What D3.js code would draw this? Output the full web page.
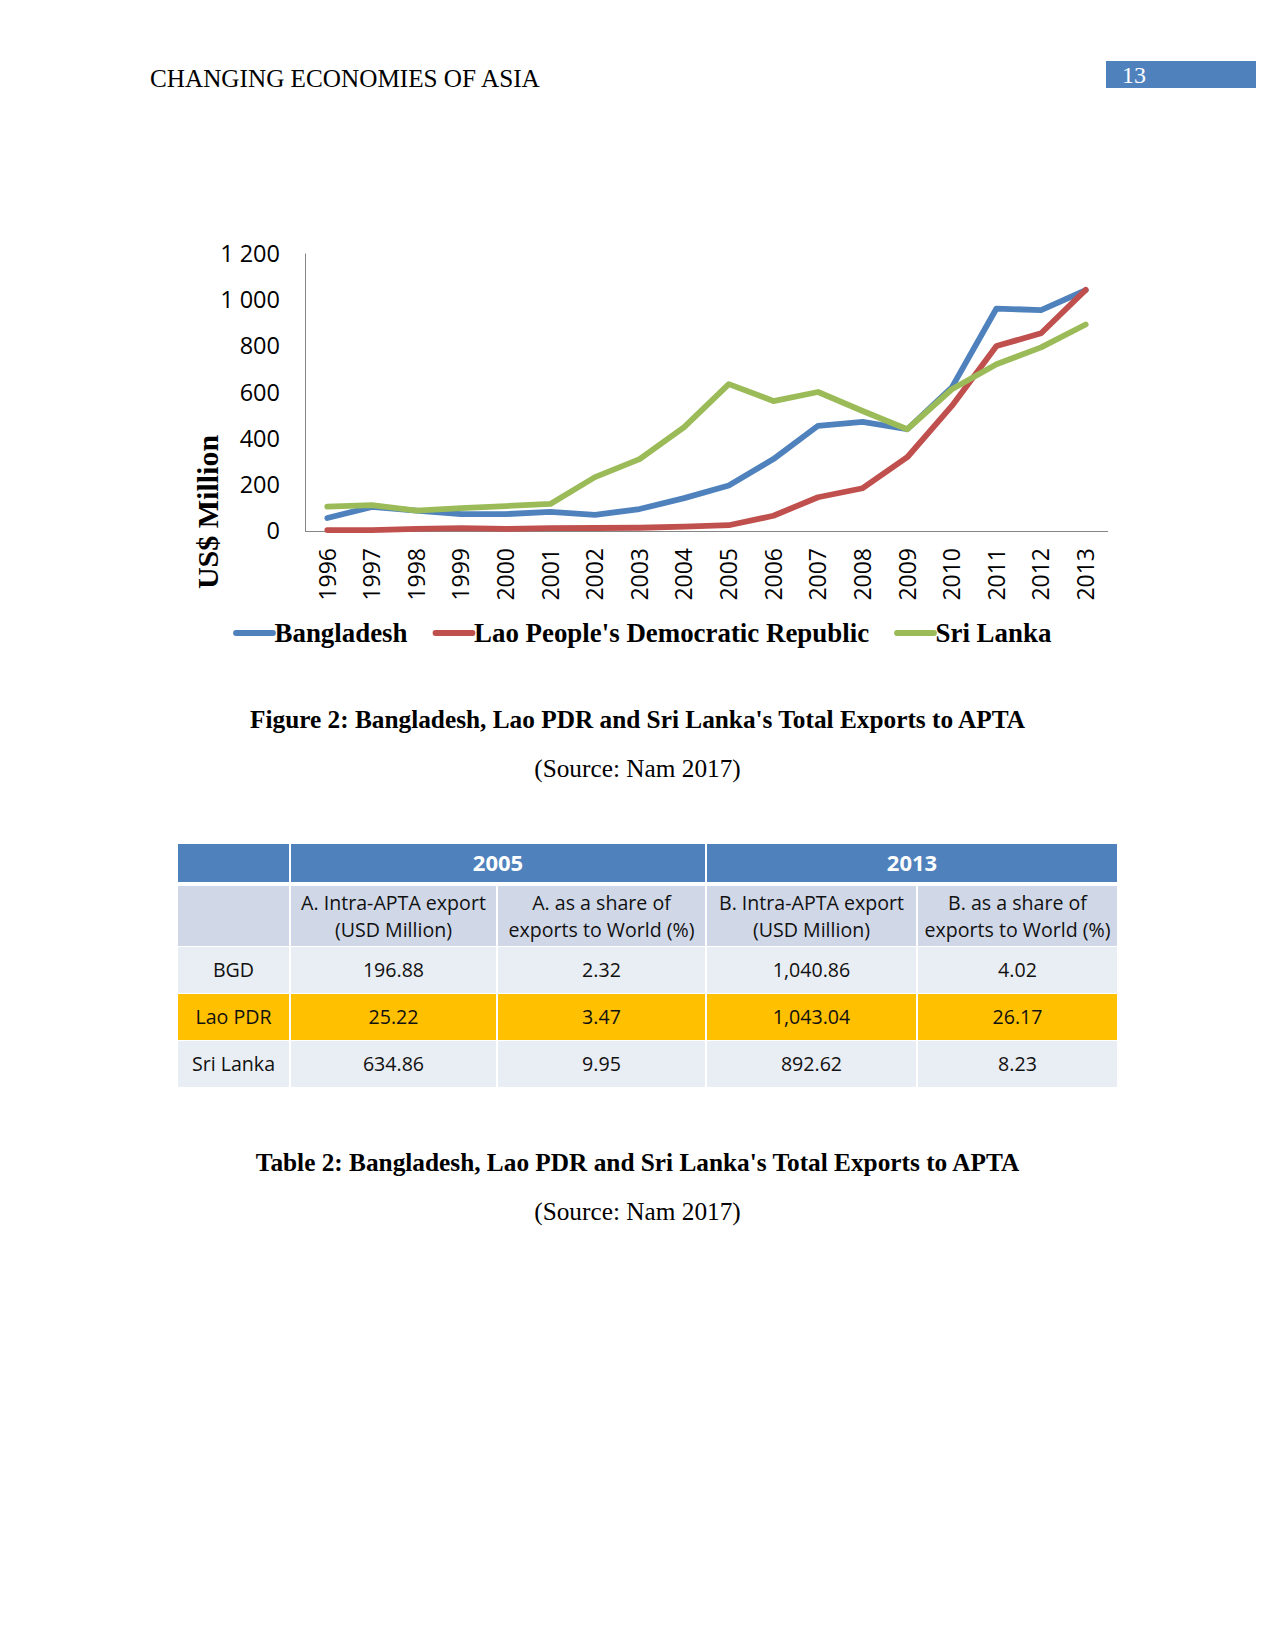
<!DOCTYPE html>
<html>
<head>
<meta charset="utf-8">
<script src="https://cdn.jsdelivr.net/npm/d3@7"></script>
<style>
  html, body { margin: 0; padding: 0; background: #fff; }
  svg { display: block; }
</style>
</head>
<body>
<svg id="page" width="1275" height="1650"></svg>
<script>
// ---------- DATA ----------
const years = ["1996","1997","1998","1999","2000","2001","2002","2003","2004","2005","2006","2007","2008","2009","2010","2011","2012","2013"];
const bangladesh = [56, 104, 88, 73, 73, 83, 70, 95, 142, 197, 311, 455, 472, 440, 621, 962, 955, 1041];
const laoPDR     = [4, 4, 9, 12, 9, 12, 13, 14, 19, 25, 66, 146, 185, 319, 541, 800, 855, 1043];
const sriLanka   = [105, 112, 88, 99, 108, 117, 233, 311, 449, 635, 562, 601, 519, 440, 613, 721, 794, 893];
const seriesNames = ["Bangladesh", "Lao People's Democratic Republic", "Sri Lanka"];
const yTicks = [0, 200, 400, 600, 800, 1000, 1200];
const yTickLabels = ["0", "200", "400", "600", "800", "1 000", "1 200"];

const tableYears = ["2005", "2013"];
const tableSubHeaders = [
  ["A. Intra-APTA export", "(USD Million)"],
  ["A. as a share of", "exports to World (%)"],
  ["B. Intra-APTA export", "(USD Million)"],
  ["B. as a share of", "exports to World (%)"]
];
const tableRowLabels = ["BGD", "Lao PDR", "Sri Lanka"];
const tableValues = [
  ["196.88", "2.32", "1,040.86", "4.02"],
  ["25.22", "3.47", "1,043.04", "26.17"],
  ["634.86", "9.95", "892.62", "8.23"]
];

// ---------- STYLE ----------
const colors = ["#4F81BD", "#C0504D", "#9BBB59"];
const svg = d3.select("#page");
const serif = "'Liberation Serif', 'Times New Roman', serif";
const sans = "'Open Sans', 'Noto Sans', sans-serif";

// ---------- PAGE HEADER ----------
svg.append("text").attr("x", 150).attr("y", 87)
  .attr("font-family", serif).attr("font-size", 25.2).attr("fill", "#000")
  .text("CHANGING ECONOMIES OF ASIA");
svg.append("rect").attr("x", 1106).attr("y", 61).attr("width", 150).attr("height", 27).attr("fill", "#4F81BD");
svg.append("text").attr("x", 1122).attr("y", 83)
  .attr("font-family", serif).attr("font-size", 24).attr("fill", "#fff").text("13");

// ---------- CHART ----------
const x = d3.scaleBand().domain(years).range([305, 1108]).padding(0);
const y = d3.scaleLinear().domain([0, 1200]).range([531, 253.5]);

const g = svg.append("g");
// y axis line
g.append("line").attr("x1", 305.5).attr("x2", 305.5).attr("y1", y(1200)).attr("y2", y(0))
  .attr("stroke", "#868686").attr("stroke-width", 1);
// x axis line
g.append("line").attr("x1", 305).attr("x2", 1108).attr("y1", y(0) + 0.5).attr("y2", y(0) + 0.5)
  .attr("stroke", "#868686").attr("stroke-width", 1);

// y tick labels
g.selectAll("text.ytick").data(yTicks).enter().append("text")
  .attr("class", "ytick")
  .attr("x", 280).attr("y", d => y(d))
  .attr("dy", "0.36em")
  .attr("text-anchor", "end")
  .attr("font-family", sans).attr("font-size", 23.5).attr("fill", "#000")
  .text((d, i) => yTickLabels[i]);

// x tick labels (rotated)
g.selectAll("text.xtick").data(years).enter().append("text")
  .attr("class", "xtick")
  .attr("transform", d => `translate(${x(d) + x.bandwidth() / 2},548) rotate(-90)`)
  .attr("dy", "0.36em")
  .attr("text-anchor", "end")
  .attr("font-family", sans).attr("font-size", 23).attr("fill", "#000")
  .text(d => d);

// y title
g.append("text")
  .attr("transform", "translate(207,512) rotate(-90)")
  .attr("dy", "0.35em")
  .attr("text-anchor", "middle")
  .attr("font-family", serif).attr("font-weight", "bold").attr("font-size", 30)
  .text("US$ Million");

// lines
const line = d3.line()
  .x((d, i) => x(years[i]) + x.bandwidth() / 2)
  .y(d => y(d));
[bangladesh, laoPDR, sriLanka].forEach((s, i) => {
  g.append("path").datum(s)
    .attr("d", line)
    .attr("fill", "none")
    .attr("stroke", colors[i])
    .attr("stroke-width", 5.8)
    .attr("stroke-linejoin", "round")
    .attr("stroke-linecap", "round");
});

// legend
const legendX = [236, 435.5, 897];
seriesNames.forEach((name, i) => {
  g.append("line").attr("x1", legendX[i]).attr("x2", legendX[i] + 37)
    .attr("y1", 633).attr("y2", 633)
    .attr("stroke", colors[i]).attr("stroke-width", 5.8).attr("stroke-linecap", "round");
  g.append("text").attr("x", legendX[i] + 38.5).attr("y", 633).attr("dy", "0.33em")
    .attr("font-family", serif).attr("font-weight", "bold").attr("font-size", 26.9)
    .text(name);
});

// ---------- CAPTIONS ----------
function caption(txt, yy, bold) {
  svg.append("text").attr("x", 637.5).attr("y", yy).attr("text-anchor", "middle")
    .attr("font-family", serif).attr("font-size", 25.3)
    .attr("font-weight", bold ? "bold" : "normal").text(txt);
}
caption("Figure 2: Bangladesh, Lao PDR and Sri Lanka's Total Exports to APTA", 728, true);
caption("(Source: Nam 2017)", 777, false);
caption("Table 2: Bangladesh, Lao PDR and Sri Lanka's Total Exports to APTA", 1171, true);
caption("(Source: Nam 2017)", 1220, false);

// ---------- TABLE ----------
const colEdges = [177, 290, 497, 706, 917, 1118];
const rowEdges = [[844, 882], [885, 946], [946, 993], [993, 1040], [1040, 1087]];
const rowFills = ["#4F81BD", "#D0D8E8", "#E9EDF4", "#FFC000", "#E9EDF4"];
const tg = svg.append("g");
const cellFont = 19.6;

// header row
const headerCells = [[0, 1, ""], [1, 3, tableYears[0]], [3, 5, tableYears[1]]];
headerCells.forEach(([a, b, t]) => {
  tg.append("rect").attr("x", colEdges[a] + 1).attr("y", rowEdges[0][0])
    .attr("width", colEdges[b] - colEdges[a] - 2).attr("height", rowEdges[0][1] - rowEdges[0][0])
    .attr("fill", rowFills[0]);
  tg.append("text").attr("x", (colEdges[a] + colEdges[b]) / 2).attr("y", (rowEdges[0][0] + rowEdges[0][1]) / 2)
    .attr("dy", "0.35em").attr("text-anchor", "middle")
    .attr("font-family", sans).attr("font-weight", "bold").attr("font-size", 22).attr("fill", "#fff")
    .text(t);
});

// body rows
for (let r = 1; r < rowEdges.length; r++) {
  for (let c = 0; c < 5; c++) {
    tg.append("rect").attr("x", colEdges[c] + 1).attr("y", rowEdges[r][0] + 1)
      .attr("width", colEdges[c + 1] - colEdges[c] - 2).attr("height", rowEdges[r][1] - rowEdges[r][0] - 1)
      .attr("fill", rowFills[r]);
  }
}
// sub headers
tableSubHeaders.forEach((lines, c) => {
  const cx = (colEdges[c + 1] + colEdges[c + 2]) / 2;
  lines.forEach((ln, k) => {
    tg.append("text").attr("x", cx).attr("y", 903 + k * 27).attr("dy", "0.35em")
      .attr("text-anchor", "middle").attr("font-family", sans).attr("font-size", cellFont).attr("fill", "#111")
      .text(ln);
  });
});
// data rows
tableRowLabels.forEach((lab, r) => {
  const cy = (rowEdges[r + 2][0] + rowEdges[r + 2][1]) / 2 + 1;
  tg.append("text").attr("x", (colEdges[0] + colEdges[1]) / 2).attr("y", cy).attr("dy", "0.35em")
    .attr("text-anchor", "middle").attr("font-family", sans).attr("font-size", cellFont).attr("fill", "#111")
    .text(lab);
  tableValues[r].forEach((v, c) => {
    tg.append("text").attr("x", (colEdges[c + 1] + colEdges[c + 2]) / 2).attr("y", cy).attr("dy", "0.35em")
      .attr("text-anchor", "middle").attr("font-family", sans).attr("font-size", cellFont).attr("fill", "#111")
      .text(v);
  });
});
</script>
</body>
</html>
